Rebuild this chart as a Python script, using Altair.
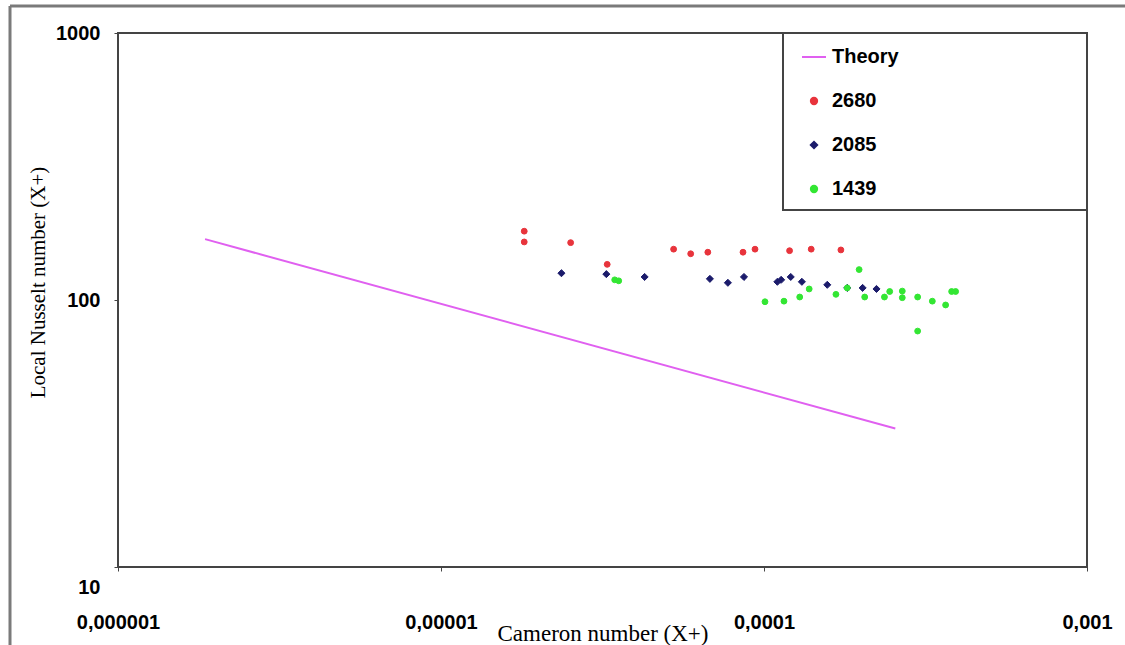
import altair as alt
import pandas as pd

# ---------------- data ----------------
x_ticks = [1e-6, 1e-5, 1e-4, 1e-3]
x_tick_labels = ["0,000001", "0,00001", "0,0001", "0,001"]
y_ticks = [10, 100, 1000]
y_tick_labels = ["10", "100", "1000"]

series_names = ["Theory", "2680", "2085", "1439"]
series_colors = ["#e060f0", "#e8343c", "#1b1b6b", "#33e633"]
series_shapes = ["M-3.8,0L3.8,0", "circle", "diamond", "circle"]

theory_x = [1.86e-6, 2.55e-4]
theory_y = [169, 33]

red_x = [1.81e-5, 1.81e-5, 2.52e-5, 3.27e-5, 5.25e-5, 5.93e-5, 6.70e-5, 8.61e-5,
         9.38e-5, 1.20e-4, 1.40e-4, 1.73e-4]
red_y = [181, 165, 164, 136, 155, 149, 151, 151, 155, 153, 155, 154]

blue_x = [2.36e-5, 3.25e-5, 4.27e-5, 6.80e-5, 7.73e-5, 8.67e-5, 1.10e-4, 1.13e-4,
          1.21e-4, 1.31e-4, 1.57e-4, 1.81e-4, 2.02e-4, 2.23e-4]
blue_y = [126, 125, 122, 120, 116, 122, 117, 119, 122, 117, 114, 111, 111, 110]

green_x = [3.45e-5, 3.55e-5, 1.007e-4, 1.153e-4, 1.29e-4, 1.38e-4, 1.67e-4, 1.81e-4,
           1.97e-4, 2.05e-4, 2.36e-4, 2.45e-4, 2.68e-4, 2.68e-4, 2.99e-4, 2.99e-4,
           3.32e-4, 3.65e-4, 3.81e-4, 3.92e-4]
green_y = [119, 118, 98.5, 99, 102.6, 110, 105, 111, 130, 102.6, 102.6, 107.6, 108,
           102, 102.6, 76.5, 99, 95.8, 107.6, 107.6]

# ---------------- tables ----------------
theory_df = pd.DataFrame({"x": theory_x, "y": theory_y})
pts_df = pd.concat([
    pd.DataFrame({"x": red_x, "y": red_y, "series": "2680"}),
    pd.DataFrame({"x": blue_x, "y": blue_y, "series": "2085"}),
    pd.DataFrame({"x": green_x, "y": green_y, "series": "1439"}),
], ignore_index=True)
one = pd.DataFrame({"a": [0]})


def label_expr(ticks, labels):
    expr = "''"
    for t, l in reversed(list(zip(ticks, labels))):
        expr = f"datum.value < {t * 1.5} ? '{l}' : ({expr})"
    return expr


W, H = 969, 534
SANS = "Liberation Sans"
SERIF = "Liberation Serif"

x_scale = alt.Scale(type="log", domain=[1e-6, 1e-3], nice=False)
y_scale = alt.Scale(type="log", domain=[10, 1000], nice=False)

x_axis = alt.Axis(
    values=x_ticks, labelExpr=label_expr(x_ticks, x_tick_labels),
    title="Cameron number  (X+)", titleFont=SERIF, titleFontSize=23,
    titleFontWeight="normal", titleColor="black", titleY=66, titleBaseline="middle",
    labelFont=SANS, labelFontSize=20, labelFontWeight="bold", labelColor="black",
    labelPadding=41, labelFlush=False, labelOverlap=False,
    tickSize=4, tickColor="#444", domain=False, grid=False,
)
y_axis = alt.Axis(
    values=y_ticks, labelExpr=label_expr(y_ticks, y_tick_labels),
    title="Local Nusselt number (X+)", titleFont=SERIF, titleFontSize=21,
    titleFontWeight="normal", titleColor="black", titleX=-80, titleY=249,
    titleAngle=270, titleAlign="center", titleBaseline="middle",
    labelFont=SANS, labelFontSize=20, labelFontWeight="bold", labelColor="black",
    labelPadding=14, labelFlush=False, labelOverlap=False,
    labelOffset={"condition": {"test": "datum.value < 20", "value": 20}, "value": 0},
    tickSize=4, tickColor="#444", domain=False, grid=False,
)

legend = alt.Legend(
    title=None, orient="none", legendX=686, legendY=14, padding=0,
    labelFont=SANS, labelFontSize=20, labelFontWeight="bold", labelColor="black",
    labelOffset=8, rowPadding=24, symbolSize=40, symbolStrokeWidth=2,
    symbolOpacity=1,
)

# decorative outer frame (left + top)
frame_left = alt.Chart(one).mark_rule(color="#7a7a7a", strokeWidth=3).encode(
    x=alt.value(-108), y=alt.value(-27), y2=alt.value(H + 80))
frame_top = alt.Chart(one).mark_rule(color="#7a7a7a", strokeWidth=3).encode(
    x=alt.value(-108), x2=alt.value(W + 40), y=alt.value(-27))

# legend box
legend_box = alt.Chart(one).mark_rect(fill="white", stroke="#444", strokeWidth=2).encode(
    x=alt.value(665), x2=alt.value(W), y=alt.value(0), y2=alt.value(177))

theory = alt.Chart(theory_df).mark_line(color=series_colors[0], strokeWidth=2).encode(
    x=alt.X("x:Q", scale=x_scale, axis=x_axis),
    y=alt.Y("y:Q", scale=y_scale, axis=y_axis),
)

points = alt.Chart(pts_df).mark_point(filled=True, opacity=1, strokeWidth=1).encode(
    x=alt.X("x:Q", scale=x_scale, axis=x_axis),
    y=alt.Y("y:Q", scale=y_scale, axis=y_axis),
    color=alt.Color("series:N", scale=alt.Scale(domain=series_names, range=series_colors),
                    legend=legend),
    stroke=alt.Stroke("series:N", scale=alt.Scale(domain=series_names, range=series_colors),
                      legend=legend),
    shape=alt.Shape("series:N", scale=alt.Scale(domain=series_names, range=series_shapes),
                    legend=legend),
    size=alt.condition(alt.datum.series == "2085", alt.value(50), alt.value(34)),
)

chart = alt.layer(frame_left, frame_top, legend_box, theory, points).properties(
    width=W, height=H,
    padding={"left": 118, "top": 33, "right": 1125 - 118 - W, "bottom": 645 - 33 - H},
    autosize=alt.AutoSizeParams(type="none"),
    background="white",
).configure_view(stroke="#444", strokeWidth=2)

chart.save("out.html", embed_options={"renderer": "svg", "actions": False})
